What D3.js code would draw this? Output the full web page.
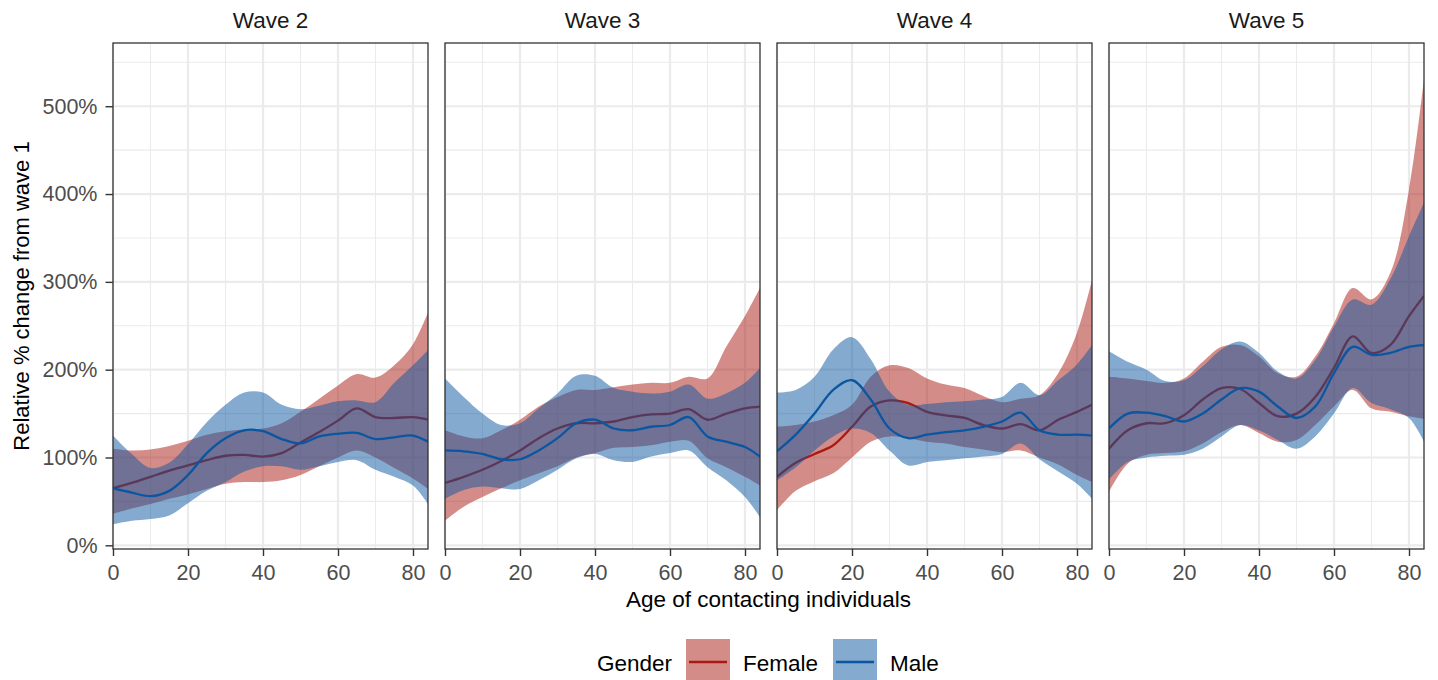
<!DOCTYPE html>
<html>
<head>
<meta charset="utf-8">
<script src="https://cdn.jsdelivr.net/npm/d3@7"></script>
<style>
  html, body { margin: 0; padding: 0; background: #ffffff; }
  svg { display: block; font-family: "Liberation Sans", Arial, Helvetica, sans-serif; }
</style>
</head>
<body>
<svg id="chart" width="1438" height="680"></svg>
<script>
// ---------------- data (percent change from wave 1) ----------------
const ages = [0, 5, 10, 15, 20, 25, 30, 35, 40, 45, 50, 55, 60, 65, 70, 75, 80, 84];
const waves = ["Wave 2", "Wave 3", "Wave 4", "Wave 5"];
const genders = ["Female", "Male"];
const yTicks = [0, 100, 200, 300, 400, 500];
const xTicks = [0, 20, 40, 60, 80];

// one row per wave (2..5)
const femaleMean = [
  [65, 71, 78, 85, 91, 97, 102, 103, 101, 105, 117, 129, 142, 156, 146, 145, 146, 143],
  [71, 78, 86, 96, 108, 122, 133, 139, 139, 141, 146, 149, 150, 155, 143, 150, 156, 158],
  [78, 94, 104, 114, 135, 158, 165, 162, 152, 148, 145, 137, 133, 138, 131, 143, 152, 160],
  [110, 131, 139, 139, 148, 166, 179, 178, 162, 147, 150, 169, 202, 238, 219, 228, 261, 284]
];
const femaleLow = [
  [36, 42, 47, 53, 58, 64, 70, 72, 72, 74, 80, 90, 100, 108, 100, 88, 76, 64],
  [28, 44, 55, 65, 74, 82, 90, 100, 105, 111, 112, 114, 118, 119, 99, 89, 78, 68],
  [40, 62, 73, 82, 100, 118, 124, 122, 118, 116, 112, 109, 106, 108, 100, 92, 80, 72],
  [61, 93, 103, 105, 107, 116, 129, 137, 128, 118, 120, 137, 158, 177, 156, 152, 147, 144]
];
const femaleHigh = [
  [110, 108, 109, 113, 119, 126, 130, 132, 133, 139, 152, 167, 182, 195, 191, 205, 229, 265],
  [131, 124, 122, 131, 143, 158, 169, 177, 177, 180, 183, 185, 185, 192, 190, 226, 261, 293],
  [135, 137, 141, 148, 160, 192, 205, 202, 190, 183, 179, 170, 163, 167, 171, 196, 242, 302],
  [192, 190, 187, 185, 190, 209, 226, 228, 215, 196, 192, 215, 253, 293, 280, 310, 405, 531]
];
const maleMean = [
  [65, 60, 56, 62, 80, 105, 122, 131, 130, 121, 116, 124, 127, 128, 121, 123, 125, 118],
  [108, 107, 104, 98, 98, 108, 122, 139, 143, 133, 131, 135, 137, 146, 124, 118, 112, 101],
  [107, 126, 150, 177, 188, 166, 133, 122, 126, 129, 131, 135, 141, 151, 131, 126, 126, 125],
  [133, 150, 151, 147, 141, 150, 166, 179, 175, 158, 145, 158, 196, 226, 217, 219, 226, 228]
];
const maleLow = [
  [24, 28, 30, 34, 48, 62, 72, 84, 90, 90, 86, 90, 95, 97, 86, 78, 68, 47],
  [53, 63, 67, 65, 64, 74, 86, 99, 104, 97, 95, 101, 105, 108, 89, 74, 55, 32],
  [74, 89, 108, 124, 133, 128, 108, 91, 95, 97, 99, 101, 104, 116, 98, 84, 70, 53],
  [75, 95, 100, 102, 103, 110, 124, 137, 131, 120, 110, 124, 150, 179, 162, 155, 145, 118]
];
const maleHigh = [
  [125, 104, 88, 94, 115, 140, 160, 174, 174, 160, 155, 159, 164, 165, 163, 185, 205, 222],
  [190, 169, 150, 137, 139, 156, 173, 193, 193, 179, 175, 173, 175, 183, 167, 173, 185, 202],
  [174, 177, 192, 223, 237, 212, 175, 160, 161, 163, 164, 166, 169, 185, 171, 188, 206, 228],
  [221, 209, 200, 187, 188, 204, 223, 232, 219, 198, 190, 211, 249, 280, 274, 303, 352, 390]
];

// ---------------- styling / layout ----------------
const colors = { Female: "#aa1912", Male: "#0b56a0" };
const ribbonOpacity = 0.5;
const panel = { left: 113, step: 332, width: 315, top: 43, height: 506 };
const tickFont = 21.5, titleFont = 22.5;

const svg = d3.select("#chart");

const x = d3.scaleLinear().domain([0, 84]).range([0, panel.width]);
const y = d3.scaleLinear().domain([-4.2, 572]).range([panel.height, 0]);

const curve = d3.curveCatmullRom.alpha(0.5);
const area = d3.area().x(d => x(d.age)).y0(d => y(d.lo)).y1(d => y(d.hi)).curve(curve);
const line = d3.line().x(d => x(d.age)).y(d => y(d.mean)).curve(curve);

function series(mean, lo, hi) {
  return ages.map((a, k) => ({ age: a, mean: mean[k], lo: lo[k], hi: hi[k] }));
}

const xMinor = [10, 30, 50, 70];
const yMinor = [50, 150, 250, 350, 450, 550];
const gridCol = "#ebebeb";

waves.forEach((wave, i) => {
  const g = svg.append("g")
    .attr("transform", `translate(${panel.left + panel.step * i},${panel.top})`);

  // grid
  const grid = g.append("g");
  grid.selectAll(".ymin").data(yMinor).enter().append("line")
    .attr("x1", 0).attr("x2", panel.width)
    .attr("y1", d => y(d)).attr("y2", d => y(d))
    .attr("stroke", gridCol).attr("stroke-width", 1.1);
  grid.selectAll(".xmin").data(xMinor).enter().append("line")
    .attr("y1", 0).attr("y2", panel.height)
    .attr("x1", d => x(d)).attr("x2", d => x(d))
    .attr("stroke", gridCol).attr("stroke-width", 1.1);
  grid.selectAll(".ymaj").data(yTicks).enter().append("line")
    .attr("x1", 0).attr("x2", panel.width)
    .attr("y1", d => y(d)).attr("y2", d => y(d))
    .attr("stroke", gridCol).attr("stroke-width", 2.2);
  grid.selectAll(".xmaj").data(xTicks).enter().append("line")
    .attr("y1", 0).attr("y2", panel.height)
    .attr("x1", d => x(d)).attr("x2", d => x(d))
    .attr("stroke", gridCol).attr("stroke-width", 2.2);

  const clipId = "clip" + i;
  g.append("clipPath").attr("id", clipId).append("rect")
    .attr("width", panel.width).attr("height", panel.height);
  const plot = g.append("g").attr("clip-path", `url(#${clipId})`);

  const f = series(femaleMean[i], femaleLow[i], femaleHigh[i]);
  const m = series(maleMean[i], maleLow[i], maleHigh[i]);

  plot.append("path").datum(f).attr("d", area)
    .attr("fill", colors.Female).attr("fill-opacity", ribbonOpacity);
  plot.append("path").datum(f).attr("d", line)
    .attr("fill", "none").attr("stroke", colors.Female).attr("stroke-width", 2.3);
  plot.append("path").datum(m).attr("d", area)
    .attr("fill", colors.Male).attr("fill-opacity", ribbonOpacity);
  plot.append("path").datum(m).attr("d", line)
    .attr("fill", "none").attr("stroke", colors.Male).attr("stroke-width", 2.3);

  // border
  g.append("rect").attr("width", panel.width).attr("height", panel.height)
    .attr("fill", "none").attr("stroke", "#333333").attr("stroke-width", 1.3);

  // x axis
  const xa = g.append("g").attr("transform", `translate(0,${panel.height})`)
    .call(d3.axisBottom(x).tickValues(xTicks).tickSize(7).tickPadding(9).tickFormat(d3.format("d")));
  xa.select(".domain").remove();
  xa.selectAll("line").attr("stroke", "#333333").attr("stroke-width", 1.4);
  xa.selectAll("text").attr("fill", "#4d4d4d").attr("font-size", tickFont)
    .attr("font-family", "Liberation Sans, Arial, sans-serif");

  if (i === 0) {
    const ya = g.append("g")
      .call(d3.axisLeft(y).tickValues(yTicks).tickSize(7.5).tickPadding(8).tickFormat(d => d + "%"));
    ya.select(".domain").remove();
    ya.selectAll("line").attr("stroke", "#333333").attr("stroke-width", 1.4);
    ya.selectAll("text").attr("fill", "#4d4d4d").attr("font-size", tickFont)
      .attr("font-family", "Liberation Sans, Arial, sans-serif");
  }

  // strip title
  svg.append("text")
    .attr("x", panel.left + panel.step * i + panel.width / 2)
    .attr("y", 28)
    .attr("text-anchor", "middle")
    .attr("font-size", titleFont).attr("fill", "#1a1a1a")
    .text(wave);
});

// axis titles
svg.append("text")
  .attr("x", (panel.left + panel.left + panel.step * 3 + panel.width) / 2)
  .attr("y", 607)
  .attr("text-anchor", "middle").attr("font-size", titleFont).attr("fill", "#000")
  .text("Age of contacting individuals");

svg.append("text")
  .attr("transform", `translate(29,${panel.top + panel.height / 2}) rotate(-90)`)
  .attr("text-anchor", "middle").attr("font-size", 22).attr("fill", "#000")
  .text("Relative % change from wave 1");

// legend
const lg = svg.append("g");
lg.append("text").attr("x", 597).attr("y", 670.5).attr("font-size", titleFont).attr("fill", "#000").text("Gender");
const legendItems = [
  { key: "Female", kx: 686, tx: 743 },
  { key: "Male", kx: 833, tx: 890 }
];
legendItems.forEach(it => {
  lg.append("rect").attr("x", it.kx).attr("y", 639).attr("width", 44).attr("height", 45)
    .attr("fill", "#ffffff");
  lg.append("rect").attr("x", it.kx).attr("y", 639).attr("width", 44).attr("height", 45)
    .attr("fill", colors[it.key]).attr("fill-opacity", ribbonOpacity);
  lg.append("line").attr("x1", it.kx + 3).attr("x2", it.kx + 41)
    .attr("y1", 662).attr("y2", 662)
    .attr("stroke", colors[it.key]).attr("stroke-width", 2.3);
  lg.append("text").attr("x", it.tx).attr("y", 670.5).attr("font-size", titleFont).attr("fill", "#000").text(it.key);
});
</script>
</body>
</html>
